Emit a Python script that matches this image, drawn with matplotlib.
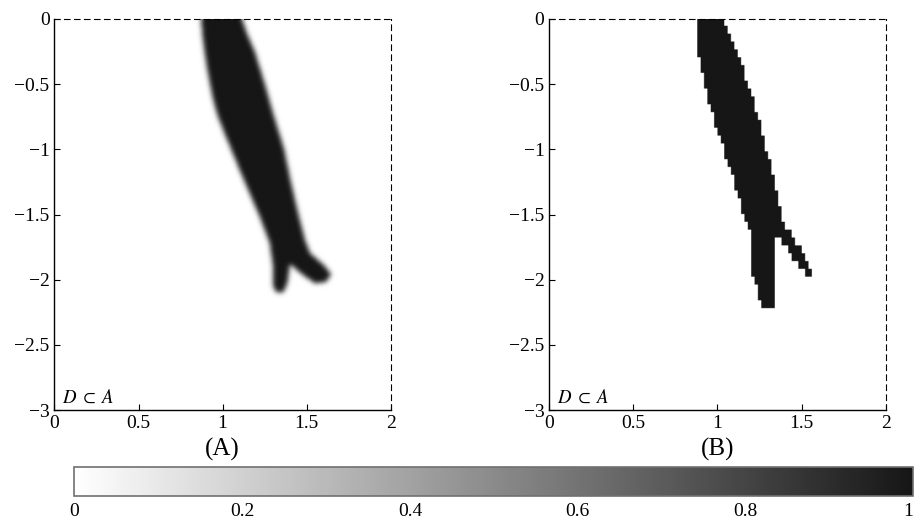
import numpy as np
import matplotlib.pyplot as plt
from matplotlib.path import Path
from matplotlib.colors import LinearSegmentedColormap

# outline of the dark region, panel (A): down the left side, round the two legs, up the right side
A_X = [0.87, 0.874, 0.88, 0.892, 0.907, 0.925, 0.945, 0.972, 1.01, 1.05, 1.09, 1.13,
       1.215, 1.28, 1.30, 1.30, 1.32, 1.36, 1.385, 1.40, 1.47, 1.55, 1.615, 1.645, 1.60,
       1.52, 1.49, 1.45, 1.405, 1.365, 1.305, 1.25, 1.19, 1.14, 1.114, 1.11]
A_Y = [0.1, 0.0, -0.12, -0.24, -0.37, -0.5, -0.625, -0.75, -0.875, -1.0, -1.125, -1.25,
       -1.5, -1.72, -1.9, -2.05, -2.10, -2.10, -2.03, -1.88, -1.96, -2.03, -2.02, -1.96, -1.89,
       -1.80, -1.70, -1.5, -1.25, -1.0, -0.75, -0.5, -0.25, -0.1, 0.0, 0.1]

# outline of the dark region, panel (B)
B_X = [0.886, 0.886, 0.905, 0.935, 0.98, 1.035, 1.095, 1.155, 1.20, 1.21, 1.24, 1.265,
       1.34, 1.34, 1.365, 1.535, 1.575, 1.415, 1.38, 1.34, 1.29, 1.24, 1.18, 1.12,
       1.06, 1.04, 1.04]
B_Y = [0.1, -0.24, -0.4, -0.6, -0.78, -1.0, -1.25, -1.5, -1.65, -1.95, -2.1, -2.24,
       -2.24, -1.71, -1.69, -1.99, -1.94, -1.62, -1.5, -1.25, -1.0, -0.75, -0.5, -0.25,
       -0.08, 0.0, 0.1]

X_TICKS = [0, 0.5, 1, 1.5, 2]
X_LABELS = ["0", "0.5", "1", "1.5", "2"]
Y_TICKS = [0, -0.5, -1, -1.5, -2, -2.5, -3]
Y_LABELS = ["0", "\u22120.5", "\u22121", "\u22121.5", "\u22122", "\u22122.5", "\u22123"]
CB_TICKS = [0, 0.2, 0.4, 0.6, 0.8, 1]
CB_LABELS = ["0", "0.2", "0.4", "0.6", "0.8", "1"]
PANELS = ["(A)", "(B)"]

plt.rcParams['font.family'] = ['Liberation Serif', 'DejaVu Serif']
plt.rcParams['mathtext.fontset'] = 'stix'


def rasterize(px, py, nx, ny):
    xs = (np.arange(nx) + 0.5) * 2.0 / nx
    ys = -(np.arange(ny) + 0.5) * 3.0 / ny
    gx, gy = np.meshgrid(xs, ys)
    path = Path(np.column_stack([px, py]))
    inside = path.contains_points(np.column_stack([gx.ravel(), gy.ravel()]))
    return inside.reshape(ny, nx).astype(float)


def blur(img, sigma, axis):
    r = int(3 * sigma) + 1
    k = np.exp(-0.5 * (np.arange(-r, r + 1) / sigma) ** 2)
    k /= k.sum()
    pad = [(0, 0), (0, 0)]
    pad[axis] = (r, r)
    padded = np.pad(img, pad, mode='edge')
    return np.apply_along_axis(lambda v: np.convolve(v, k, mode='valid'), axis, padded)


field_a = rasterize(A_X, A_Y, 400, 600)
field_a = blur(blur(field_a, 3.0, 1), 3.8, 0)
# coarse cells, enlarged so the bilinear draw only softens the cell edges slightly
field_b = rasterize(B_X, B_Y, 100, 50)
field_b = np.repeat(np.repeat(field_b, 6, axis=0), 6, axis=1)

cmap = LinearSegmentedColormap.from_list('wk', ['#ffffff', '#151615'])

fig = plt.figure(figsize=(9.14, 5.19), dpi=100)
ax_a = fig.add_axes([0.0596, 0.210, 0.3679, 0.7534])
ax_b = fig.add_axes([0.6010, 0.210, 0.3680, 0.7534])

for ax, field, label in zip([ax_a, ax_b], [field_a, field_b], PANELS):
    im = ax.imshow(field, cmap=cmap, vmin=0, vmax=1, extent=[0, 2, -3, 0],
                   origin='upper', aspect='auto', interpolation='bilinear')
    ax.set_xlim(0, 2)
    ax.set_ylim(-3, 0)
    ax.set_xticks(X_TICKS, labels=X_LABELS)
    ax.set_yticks(Y_TICKS, labels=Y_LABELS)
    ax.tick_params(direction='in', length=4, width=0.8, top=False, right=False,
                   labelsize=14, pad=3.5)
    for s in ['left', 'bottom']:
        ax.spines[s].set_linewidth(1.0)
    for s in ['top', 'right']:
        ax.spines[s].set_linewidth(0.8)
        ax.spines[s].set_linestyle((0, (5, 4)))
    ax.text(0.043, -2.91, r'$D\;\subset\;A$', fontsize=13.5, va='center', ha='left')
    ax.text(0.5, -0.1, label, transform=ax.transAxes, fontsize=18,
            ha='center', va='center')

cax = fig.add_axes([0.0815, 0.0443, 0.9177, 0.055])
cb = fig.colorbar(im, cax=cax, orientation='horizontal')
cb.outline.set_edgecolor('#707070')
cb.outline.set_linewidth(1.2)
cb.set_ticks(CB_TICKS, labels=CB_LABELS)
cax.tick_params(length=0, labelsize=14, pad=5)
# the last label sits on the figure edge; keep it inside
cax.get_xticklabels()[-1].set_horizontalalignment('right')

fig.savefig('out.png', dpi=100)
